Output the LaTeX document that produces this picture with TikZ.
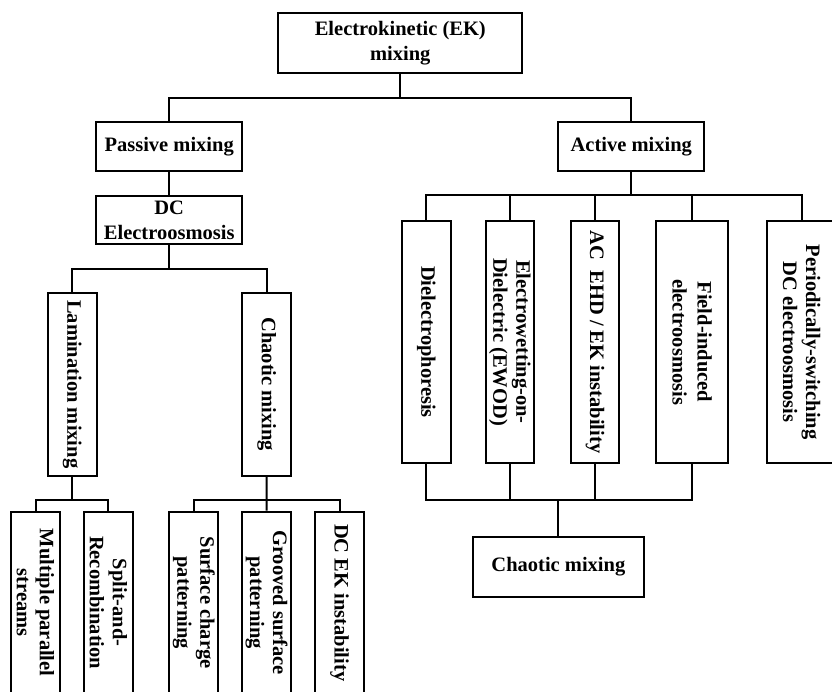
\documentclass[tikz,border=0pt]{standalone}
\usepackage{fontspec}
\setmainfont{Liberation Serif}
\begin{document}
\begin{tikzpicture}[x=1pt,y=-1pt,
  bx/.style={draw, line width=2pt, inner sep=0pt, align=center,
    font=\bfseries\fontsize{20.5}{23}\selectfont, text=black},
  vbx/.style={bx, rotate=-90},
  wide/.style={font=\bfseries\fontsize{20.5}{25}\selectfont},
  ln/.style={line width=2pt}]
\useasboundingbox (0,0) rectangle (832,691);
\fill[white] (0,0) rectangle (832,691);
\clip (0,0) rectangle (832,691);
% level 0
\node[bx, wide, minimum width=244pt, minimum height=60pt] (top) at (400.3,43) {Electrokinetic (EK)\\mixing};
% level 1
\node[bx, minimum width=146pt, minimum height=48.7pt] (pas) at (169.2,146.7) {Passive mixing};
\node[bx, minimum width=146pt, minimum height=48.7pt] (act) at (631.3,146.7) {Active mixing};
\node[bx, wide, minimum width=146pt, minimum height=48.6pt] (dce) at (169.2,220) {DC\\Electroosmosis};
% passive branch
\node[vbx, minimum width=183.3pt, minimum height=49pt] (lam) at (72.2,384.3) {Lamination mixing};
\node[vbx, minimum width=183.3pt, minimum height=48.7pt] (cha) at (266.7,384.3) {Chaotic mixing};
\node[vbx, minimum width=182pt, minimum height=49pt] (b1) at (35.5,602.7) {Multiple parallel\\streams};
\node[vbx, minimum width=182pt, minimum height=48.7pt] (b2) at (108.3,602.7) {Split-and-\\Recombination};
\node[vbx, minimum width=182pt, minimum height=49pt] (b3) at (193.8,602.7) {Surface charge\\patterning};
\node[vbx, minimum width=182pt, minimum height=48.4pt] (b4) at (266.5,602.7) {Grooved surface\\patterning};
\node[vbx, minimum width=182pt, minimum height=49pt] (b5) at (339.5,602.7) {DC EK instability};
% active branch
\node[vbx, minimum width=242.6pt, minimum height=49pt] (a1) at (426.2,342) {Dielectrophoresis};
\node[vbx, minimum width=242.6pt, minimum height=48.3pt] (a2) at (509.9,342) {Electrowetting-on-\\Dielectric (EWOD)};
\node[vbx, minimum width=242.6pt, minimum height=48pt] (a3) at (595,342) {AC\enspace EHD / EK instability};
\node[vbx, wide, minimum width=242.6pt, minimum height=72.3pt] (a4) at (692.2,342) {Field-induced\\electroosmosis};
\node[vbx, minimum width=242.6pt, minimum height=70pt] (a5) at (801.7,342) {Periodically-switching\\DC electroosmosis};
\node[bx, minimum width=171.3pt, minimum height=60.6pt] (mix) at (558.4,567) {Chaotic mixing};
% bus coordinates
\coordinate (y0) at (0,98.3);
\coordinate (y1) at (0,195);
\coordinate (y2) at (0,500);
\coordinate (y3) at (0,268.7);
% connectors
\draw[ln] (top.south) -- (top.south |- y0);
\draw[ln] (top.south |- y0) -| (pas.north);
\draw[ln] (top.south |- y0) -| (act.north);
\draw[ln] (pas.south) -- (dce.north);
\draw[ln] (dce.south) -- (dce.south |- y3);
\draw[ln] (dce.south |- y3) -| (lam.west);
\draw[ln] (dce.south |- y3) -| (cha.west);
\draw[ln] (lam.east) -- (lam.east |- y2);
\draw[ln] (lam.east |- y2) -| (b1.west);
\draw[ln] (lam.east |- y2) -| (b2.west);
\draw[ln] (cha.east) -- (b4.west);
\draw[ln] (cha.east |- y2) -| (b3.west);
\draw[ln] (cha.east |- y2) -| (b5.west);
\draw[ln] (act.south) -- (act.south |- y1);
\draw[ln] (act.south |- y1) -| (a1.west);
\draw[ln] (act.south |- y1) -| (a5.west);
\draw[ln] (a2.west |- y1) -- (a2.west);
\draw[ln] (a3.west |- y1) -- (a3.west);
\draw[ln] (a4.west |- y1) -- (a4.west);
\draw[ln] (a1.east) |- (a4.east |- y2) -- (a4.east);
\draw[ln] (a2.east) -- (a2.east |- y2);
\draw[ln] (a3.east) -- (a3.east |- y2);
\draw[ln] (mix.north |- y2) -- (mix.north);
\end{tikzpicture}
\end{document}
